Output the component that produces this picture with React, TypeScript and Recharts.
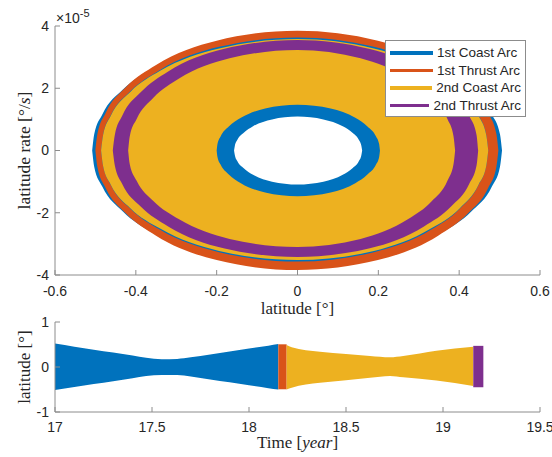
import { ComposedChart, Area, XAxis, YAxis, Legend } from 'recharts';

type Band = [number, number, number];

const COAST1 = '#0072BD';
const THRUST1 = '#D95319';
const COAST2 = '#EDB120';
const THRUST2 = '#7E2F8E';
const AXIS = '#8c8c8c';
const INK = '#262626';

// phase plot: outline of each filled layer, [latitude, low rate, high rate] (rate in 1e-5 deg/s)
const coast1Outer: Band[] = [
  [-0.508, 0, 0], [-0.503, -0.52, 0.52], [-0.483, -1.16, 1.16], [-0.432, -1.96, 1.96],
  [-0.356, -2.66, 2.66], [-0.203, -3.41, 3.41], [0, -3.72, 3.72], [0.202, -3.41, 3.41],
  [0.354, -2.66, 2.66], [0.43, -1.96, 1.96], [0.481, -1.16, 1.16], [0.501, -0.52, 0.52],
  [0.506, 0, 0],
];
const thrust1Ring: Band[] = [
  [-0.5, 0, 0], [-0.495, -0.54, 0.54], [-0.475, -1.2, 1.2], [-0.425, -2.02, 2.03],
  [-0.35, -2.74, 2.75], [-0.2, -3.52, 3.53], [0, -3.84, 3.85], [0.199, -3.52, 3.53],
  [0.348, -2.74, 2.75], [0.422, -2.02, 2.03], [0.472, -1.2, 1.2], [0.492, -0.54, 0.54],
  [0.497, 0, 0],
];
const coast1Edge: Band[] = [
  [-0.486, 0, 0], [-0.481, -0.5, 0.51], [-0.462, -1.11, 1.13], [-0.413, -1.88, 1.91],
  [-0.34, -2.55, 2.59], [-0.194, -3.27, 3.33], [0, -3.57, 3.63], [0.189, -3.27, 3.33],
  [0.33, -2.55, 2.59], [0.401, -1.88, 1.91], [0.448, -1.11, 1.13], [0.467, -0.5, 0.51],
  [0.472, 0, 0],
];
const coast2Edge: Band[] = [
  [-0.486, 0, 0], [-0.481, -0.5, 0.5], [-0.462, -1.1, 1.12], [-0.413, -1.86, 1.89],
  [-0.34, -2.51, 2.56], [-0.194, -3.23, 3.28], [0, -3.52, 3.58], [0.189, -3.23, 3.28],
  [0.33, -2.51, 2.56], [0.401, -1.86, 1.89], [0.448, -1.1, 1.12], [0.467, -0.5, 0.5],
  [0.472, 0, 0],
];
const thrust2Ring: Band[] = [
  [-0.457, 0, 0], [-0.452, -0.48, 0.5], [-0.434, -1.07, 1.11], [-0.388, -1.8, 1.87],
  [-0.32, -2.44, 2.54], [-0.183, -3.14, 3.26], [0, -3.42, 3.55], [0.179, -3.14, 3.26],
  [0.313, -2.44, 2.54], [0.38, -1.8, 1.87], [0.425, -1.07, 1.11], [0.443, -0.48, 0.5],
  [0.447, 0, 0],
];
const coast2Fill: Band[] = [
  [-0.419, 0, 0], [-0.415, -0.44, 0.46], [-0.398, -0.97, 1.01], [-0.356, -1.63, 1.7],
  [-0.293, -2.21, 2.31], [-0.168, -2.84, 2.96], [0, -3.1, 3.23], [0.156, -2.84, 2.96],
  [0.273, -2.21, 2.31], [0.332, -1.63, 1.7], [0.371, -0.97, 1.01], [0.386, -0.44, 0.46],
  [0.39, 0, 0],
];
const coast1Inner: Band[] = [
  [-0.2, 0, 0], [-0.198, -0.21, 0.21], [-0.19, -0.46, 0.46], [-0.17, -0.77, 0.77],
  [-0.14, -1.05, 1.05], [-0.08, -1.35, 1.35], [0, -1.47, 1.47], [0.082, -1.35, 1.35],
  [0.143, -1.05, 1.05], [0.173, -0.77, 0.77], [0.194, -0.46, 0.46], [0.202, -0.21, 0.21],
  [0.204, 0, 0],
];
const innerHole: Band[] = [
  [-0.157, 0, 0], [-0.155, -0.15, 0.15], [-0.149, -0.34, 0.34], [-0.133, -0.57, 0.57],
  [-0.11, -0.78, 0.78], [-0.063, -1, 1], [0, -1.09, 1.09], [0.064, -1, 1],
  [0.112, -0.78, 0.78], [0.136, -0.57, 0.57], [0.152, -0.34, 0.34], [0.158, -0.15, 0.15],
  [0.16, 0, 0],
];

// time history envelopes: [year, low latitude, high latitude]
const coast1Time: Band[] = [
  [17.0, -0.51, 0.52], [17.1, -0.445, 0.45], [17.2, -0.38, 0.385], [17.3, -0.315, 0.32],
  [17.4, -0.25, 0.255], [17.47, -0.2, 0.205], [17.55, -0.175, 0.175], [17.63, -0.18, 0.18],
  [17.7, -0.21, 0.215], [17.8, -0.275, 0.28], [17.9, -0.34, 0.345], [18.0, -0.405, 0.41],
  [18.1, -0.47, 0.475], [18.151, -0.5, 0.51],
];
const thrust1Time: Band[] = [[18.151, -0.495, 0.504], [18.194, -0.495, 0.504]];
const coast2Time: Band[] = [
  [18.194, -0.5, 0.49], [18.22, -0.46, 0.44], [18.366, -0.35, 0.34], [18.5, -0.293, 0.29],
  [18.624, -0.24, 0.245], [18.727, -0.2, 0.215], [18.795, -0.23, 0.245], [18.966, -0.3, 0.36],
  [19.156, -0.42, 0.45],
];
const thrust2Time: Band[] = [[19.156, -0.45, 0.47], [19.208, -0.45, 0.47]];

const latTicks = [-0.6, -0.4, -0.2, 0, 0.2, 0.4, 0.6];
const rateTicks = [-4, -2, 0, 2, 4];
const timeTicks = [17, 17.5, 18, 18.5, 19, 19.5];
const latTimeTicks = [-1, 0, 1];

const arcNames = ['1st Coast Arc', '1st Thrust Arc', '2nd Coast Arc', '2nd Thrust Arc'];
const arcColors = [COAST1, THRUST1, COAST2, THRUST2];

const phaseLayers = [
  { id: 'c1o', color: COAST1, pts: coast1Outer },
  { id: 't1', color: THRUST1, pts: thrust1Ring },
  { id: 'c1e', color: COAST1, pts: coast1Edge },
  { id: 'c2e', color: COAST2, pts: coast2Edge },
  { id: 't2', color: THRUST2, pts: thrust2Ring },
  { id: 'c2f', color: COAST2, pts: coast2Fill },
  { id: 'c1i', color: COAST1, pts: coast1Inner },
  { id: 'hole', color: '#ffffff', pts: innerHole },
];

const timeLayers = [
  { id: 'c1', color: COAST1, pts: coast1Time },
  { id: 't1', color: THRUST1, pts: thrust1Time },
  { id: 'c2', color: COAST2, pts: coast2Time },
  { id: 't2', color: THRUST2, pts: thrust2Time },
];

const toRows = (pts: Band[]) => pts.map(([x, lo, hi]) => ({ x, band: [lo, hi] }));

const sans = 'Liberation Sans, Arial, sans-serif';
const serif = 'Liberation Serif, Times New Roman, serif';
const tickFont = { fill: INK, fontSize: 14, fontFamily: sans };

const RateLabel = ({ viewBox }: any) => {
  const vb = viewBox || { x: 0, y: 26, width: 55, height: 249 };
  const cy = vb.y + vb.height / 2;
  return (
    <g>
      <text x={30} y={cy} transform={`rotate(-90 30 ${cy})`} textAnchor="middle"
        fill={INK} fontSize={17.5} fontFamily={serif}>
        latitude rate [°/<tspan fontStyle="italic">s</tspan>]
      </text>
      <text x={vb.x + vb.width + 1} y={vb.y - 3} fill={INK} fontSize={14} fontFamily={sans}>
        ×10<tspan dy={-6} fontSize={11}>-5</tspan>
      </text>
    </g>
  );
};

const LatLabel = ({ viewBox }: any) => {
  const vb = viewBox || { x: 0, y: 22, width: 55, height: 90 };
  const cy = vb.y + vb.height / 2;
  return (
    <text x={30} y={cy} transform={`rotate(-90 30 ${cy})`} textAnchor="middle"
      fill={INK} fontSize={17} fontFamily={serif}>
      latitude [°]
    </text>
  );
};

const TimeLabel = ({ viewBox }: any) => {
  const vb = viewBox || { x: 55, y: 112, width: 485, height: 45 };
  return (
    <text x={vb.x + vb.width / 2} y={vb.y + 36} textAnchor="middle"
      fill={INK} fontSize={17} fontFamily={serif}>
      Time [<tspan fontStyle="italic">year</tspan>]
    </text>
  );
};

const ArcLegend = () => (
  <div style={{
    border: `1px solid ${AXIS}`, background: '#fff', padding: '3px 4px 2px 4px',
    fontFamily: sans, fontSize: 13.5, color: INK, boxSizing: 'border-box', width: 141,
  }}>
    {arcNames.map((n, i) => (
      <div key={n} style={{ display: 'flex', alignItems: 'center', height: 17.5, whiteSpace: 'nowrap' }}>
        <span style={{ display: 'inline-block', width: 43, height: 3.5, background: arcColors[i], marginRight: 4 }} />
        <span>{n}</span>
      </div>
    ))}
  </div>
);

export default function App() {
  return (
    <div style={{ position: 'absolute', left: 0, top: 0, width: 552, height: 457, background: '#fff' }}>
      <div style={{ position: 'absolute', left: 0, top: 0 }}>
        <ComposedChart width={552} height={320} margin={{ top: 26, right: 12, bottom: 0, left: 0 }}>
          <XAxis xAxisId="b" type="number" dataKey="x" domain={[-0.6, 0.6]} ticks={latTicks}
            interval={0} height={45} tickSize={-5} tickMargin={16} tick={tickFont}
            axisLine={{ stroke: AXIS }} tickLine={{ stroke: AXIS }}
            label={{ value: 'latitude [°]', position: 'insideTop', offset: 27, fill: INK, fontSize: 17, fontFamily: serif }} />
          <XAxis xAxisId="t" orientation="top" type="number" dataKey="x" domain={[-0.6, 0.6]}
            ticks={latTicks} interval={0} height={0} tickSize={-5} tick={false}
            axisLine={{ stroke: AXIS }} tickLine={{ stroke: AXIS }} />
          <YAxis yAxisId="l" type="number" domain={[-4, 4]} ticks={rateTicks} interval={0}
            width={55} tickSize={-5} tickMargin={11} tick={tickFont}
            axisLine={{ stroke: AXIS }} tickLine={{ stroke: AXIS }} label={<RateLabel />} />
          <YAxis yAxisId="r" orientation="right" type="number" domain={[-4, 4]} ticks={rateTicks}
            interval={0} width={0} tickSize={-5} tick={false}
            axisLine={{ stroke: AXIS }} tickLine={{ stroke: AXIS }} />
          {phaseLayers.map((l) => (
            <Area key={l.id} xAxisId="b" yAxisId="l" data={toRows(l.pts)} dataKey="band"
              type="monotone" stroke="none" fill={l.color} fillOpacity={1}
              dot={false} activeDot={false} isAnimationActive={false} />
          ))}
          <Legend verticalAlign="middle" layout="horizontal"
            wrapperStyle={{ left: 385, top: 40, width: 141, height: 74 }}
            content={() => <ArcLegend />} />
        </ComposedChart>
      </div>
      <div style={{ position: 'absolute', left: 0, top: 300 }}>
        <ComposedChart width={552} height={157} margin={{ top: 22, right: 12, bottom: 0, left: 0 }}>
          <XAxis xAxisId="b" type="number" dataKey="x" domain={[17, 19.5]} ticks={timeTicks}
            interval={0} height={45} tickSize={-5} tickMargin={15} tick={tickFont}
            axisLine={{ stroke: AXIS }} tickLine={{ stroke: AXIS }} label={<TimeLabel />} />
          <XAxis xAxisId="t" orientation="top" type="number" dataKey="x" domain={[17, 19.5]}
            ticks={timeTicks} interval={0} height={0} tickSize={-5} tick={false}
            axisLine={{ stroke: AXIS }} tickLine={{ stroke: AXIS }} />
          <YAxis yAxisId="l" type="number" domain={[-1, 1]} ticks={latTimeTicks} interval={0}
            width={55} tickSize={-5} tickMargin={11} tick={tickFont}
            axisLine={{ stroke: AXIS }} tickLine={{ stroke: AXIS }} label={<LatLabel />} />
          <YAxis yAxisId="r" orientation="right" type="number" domain={[-1, 1]} ticks={latTimeTicks}
            interval={0} width={0} tickSize={-5} tick={false}
            axisLine={{ stroke: AXIS }} tickLine={{ stroke: AXIS }} />
          {timeLayers.map((l) => (
            <Area key={l.id} xAxisId="b" yAxisId="l" data={toRows(l.pts)} dataKey="band"
              type="monotone" stroke="none" fill={l.color} fillOpacity={1}
              dot={false} activeDot={false} isAnimationActive={false} />
          ))}
        </ComposedChart>
      </div>
    </div>
  );
}
